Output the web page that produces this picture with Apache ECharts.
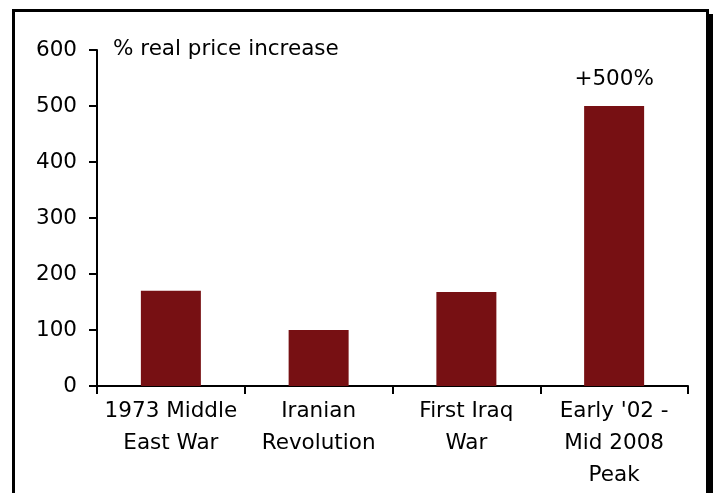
<!DOCTYPE html>
<html>
<head>
<meta charset="utf-8">
<script src="https://cdn.jsdelivr.net/npm/echarts@6/dist/echarts.min.js"></script>
<style>
  html, body { margin: 0; padding: 0; background: #fff; }
  #main { width: 713px; height: 493px; }
</style>
</head>
<body>
<div id="main"></div>
<script>
// categories and values
var categories = ['1973 Middle\nEast War', 'Iranian\nRevolution', 'First Iraq\nWar', "Early '02 -\nMid 2008\nPeak"];
var increases = [170, 100, 168, 500];
var peakLabel = '+500%';
var yTicks = { min: 0, max: 600, interval: 100 };

function buildChart(targetId) {
    var myChart = echarts.init(document.getElementById(targetId));
    myChart.setOption(optionConfig());
}

function optionConfig() {
    var font = 'DejaVu Sans';
    var size = 21.5;
    var barData = increases.map(function (v, i) {
        var item = { value: v };
        if (i === increases.length - 1) {
            item.label = {
                show: true,
                position: 'top',
                distance: 16,
                formatter: peakLabel,
                color: '#000',
                fontFamily: font,
                fontSize: size
            };
        }
        return item;
    });
    return {
        animation: false,
        backgroundColor: '#fff',
        grid: { left: 97, right: 25, top: 50, bottom: 107 },
        graphic: [
            // frame around the chart
            { type: 'rect', shape: { x: 13.5, y: 10.5, width: 694, height: 600 },
              style: { fill: 'none', stroke: '#000', lineWidth: 3 } },
            { type: 'rect', shape: { x: 708, y: 14, width: 5, height: 500 },
              style: { fill: '#000' } },
            { type: 'text', left: 113, top: 38,
              style: { text: '% real price increase', fill: '#000', font: size + 'px "DejaVu Sans"' } }
        ],
        xAxis: {
            type: 'category',
            data: categories,
            axisLine: { lineStyle: { color: '#000', width: 2 } },
            axisTick: { show: true, length: 8, lineStyle: { color: '#000', width: 2 } },
            axisLabel: {
                interval: 0,
                margin: 9,
                color: '#000',
                fontFamily: font,
                fontSize: size,
                lineHeight: 32
            }
        },
        yAxis: {
            type: 'value',
            min: yTicks.min,
            max: yTicks.max,
            interval: yTicks.interval,
            splitLine: { show: false },
            axisLine: { show: true, lineStyle: { color: '#000', width: 2 } },
            axisTick: { show: true, length: 8, lineStyle: { color: '#000', width: 2 } },
            axisLabel: { margin: 20, color: '#000', fontFamily: font, fontSize: size }
        },
        series: [{
            type: 'bar',
            data: barData,
            barWidth: 60,
            itemStyle: { color: '#771013' }
        }]
    };
}

buildChart('main');
</script>
</body>
</html>
